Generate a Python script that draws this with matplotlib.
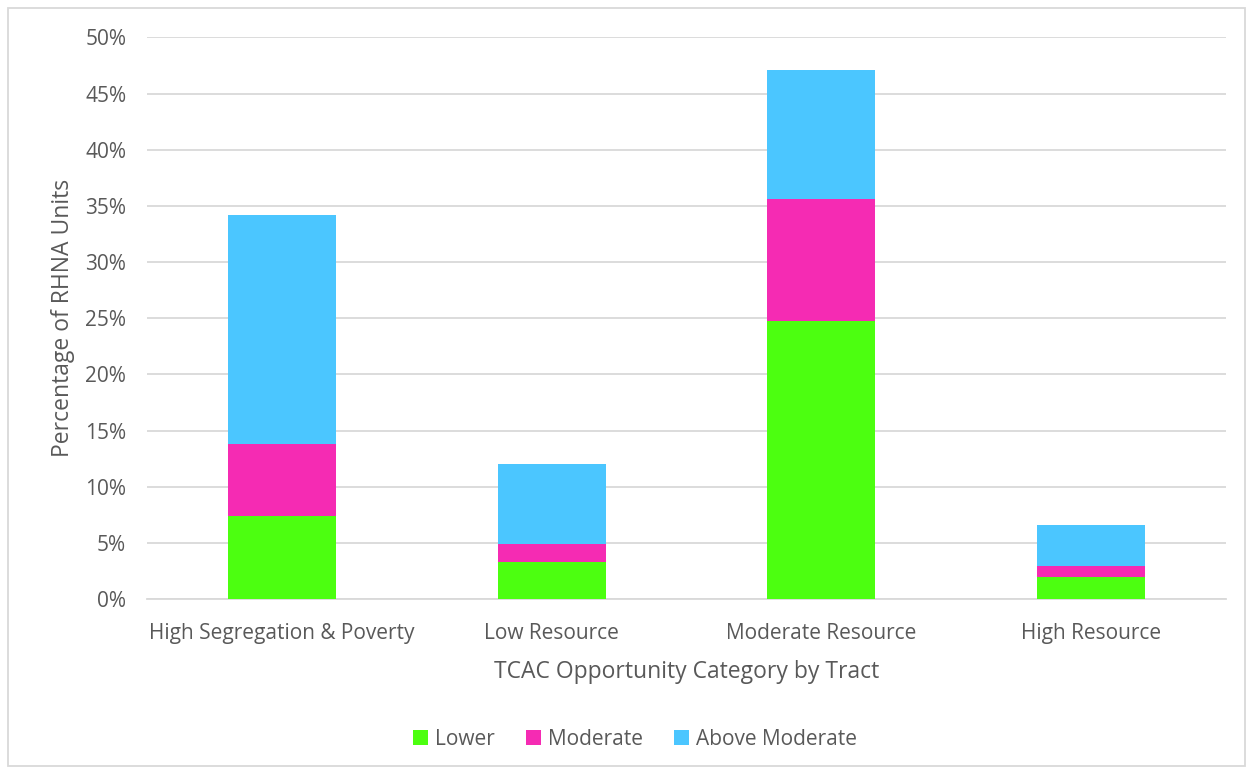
import matplotlib.pyplot as plt
from matplotlib.patches import Rectangle
from matplotlib.ticker import FuncFormatter
import numpy as np

categories = ['High Segregation & Poverty', 'Low Resource', 'Moderate Resource', 'High Resource']
lower = [7.4, 3.3, 24.75, 2.0]
moderate = [6.4, 1.6, 10.85, 0.95]
above_moderate = [20.4, 7.15, 11.5, 3.65]
series_names = ['Lower', 'Moderate', 'Above Moderate']
series_colors = ['#4CFF10', '#F52BB3', '#4BC6FF']

plt.rcParams['font.family'] = ['Open Sans', 'DejaVu Sans']
text_color = '#595959'

fig = plt.figure(figsize=(12.5, 7.71), dpi=100)
ax = fig.add_axes([0.1176, 0.2231, 0.8632, 0.7283])

x = np.arange(len(categories))
bottom = np.zeros(len(categories))
for name, vals, col in zip(series_names, [lower, moderate, above_moderate], series_colors):
    v = np.array(vals) / 100
    ax.bar(x, v, width=0.4, bottom=bottom, color=col, label=name, zorder=3)
    bottom += v

ax.set_xlim(-0.5, 3.5)
ax.set_ylim(0, 0.5)
ax.set_yticks(np.arange(0, 0.51, 0.05))
ax.yaxis.set_major_formatter(FuncFormatter(lambda v, p: f'{v*100:.0f}%'))
ax.set_xticks(x)
ax.set_xticklabels(categories)
ax.grid(axis='y', color='#d9d9d9', linewidth=1.3, zorder=0)
for s in ['top', 'right', 'left']:
    ax.spines[s].set_visible(False)
ax.spines['bottom'].set_color('#d9d9d9')
ax.spines['bottom'].set_linewidth(1.3)
ax.tick_params(axis='both', length=0, labelsize=15, labelcolor=text_color)
ax.tick_params(axis='x', pad=17)
ax.tick_params(axis='y', pad=15)

ax.set_xlabel('TCAC Opportunity Category by Tract', fontsize=16.5, color=text_color, labelpad=12)
ax.set_ylabel('Percentage of RHNA Units', fontsize=16.5, color=text_color, labelpad=7)

fig.legend(loc='center', bbox_to_anchor=(0.508, 0.041), ncol=3, frameon=False,
           fontsize=15, labelcolor=text_color, handlelength=0.7, handleheight=0.7,
           handletextpad=0.35, columnspacing=1.5)

fig.patches.append(Rectangle((0.006, 0.007), 0.99, 0.983, transform=fig.transFigure,
                             fill=False, edgecolor='#d9d9d9', linewidth=1.3))

fig.savefig('out.png', dpi=100)
